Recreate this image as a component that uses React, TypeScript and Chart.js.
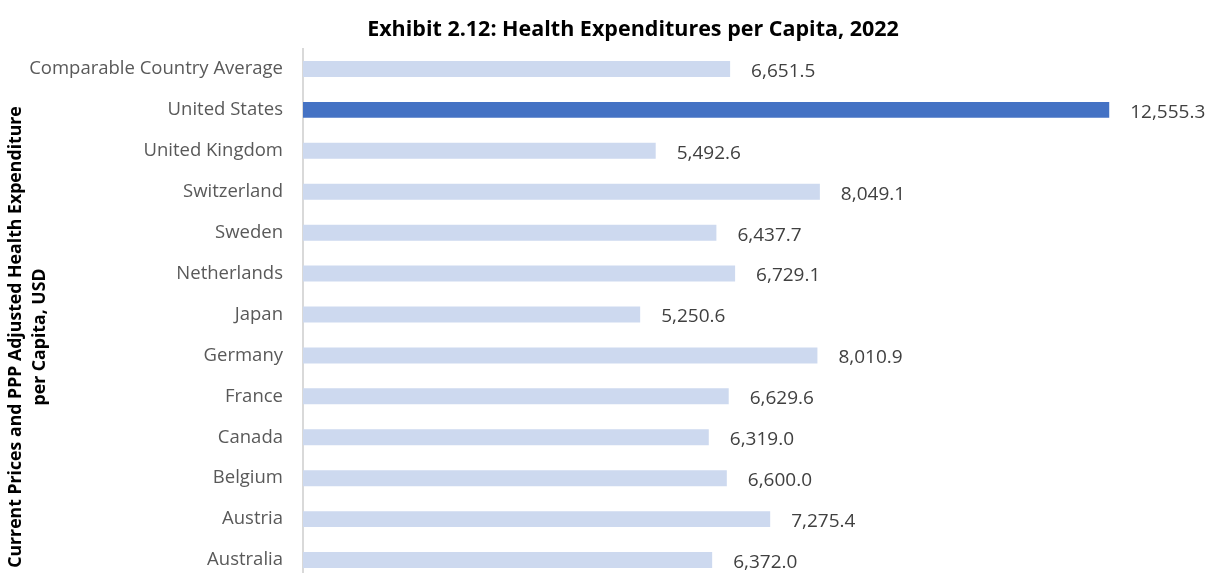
import React, { useEffect, useRef } from "react";
import { Chart, registerables } from "chart.js";

Chart.register(...registerables);

const categories = [
  "Comparable Country Average",
  "United States",
  "United Kingdom",
  "Switzerland",
  "Sweden",
  "Netherlands",
  "Japan",
  "Germany",
  "France",
  "Canada",
  "Belgium",
  "Austria",
  "Australia",
];

const values = [
  6651.5, 12555.3, 5492.6, 8049.1, 6437.7, 6729.1, 5250.6, 8010.9, 6629.6,
  6319.0, 6600.0, 7275.4, 6372.0,
];

const highlight = "United States";
const titleText = "Exhibit 2.12: Health Expenditures per Capita, 2022";
const yTitleLines = [
  "Current Prices and PPP Adjusted Health Expenditure",
  "per Capita, USD",
];

const FONT = "'Open Sans', sans-serif";

export default function App() {
  const ref = useRef<HTMLCanvasElement | null>(null);

  useEffect(() => {
    document.body.style.margin = "0";
    document.body.style.overflow = "hidden";
    const canvas = ref.current;
    if (!canvas) return;

    const labelPlugin = {
      id: "valueLabels",
      afterDatasetsDraw(chart: any) {
        const ctx = chart.ctx;
        const meta = chart.getDatasetMeta(0);
        ctx.save();
        ctx.font = `19px ${FONT}`;
        ctx.fillStyle = "#404040";
        ctx.textAlign = "left";
        ctx.textBaseline = "middle";
        meta.data.forEach((el: any, i: number) => {
          const v = values[i];
          const txt = v.toLocaleString("en-US", {
            minimumFractionDigits: 1,
            maximumFractionDigits: 1,
          });
          ctx.fillText(txt, el.x + 21, el.y + 2.5);
        });
        ctx.restore();
      },
    };

    const textPlugin = {
      id: "texts",
      afterDraw(chart: any) {
        const ctx = chart.ctx;
        ctx.save();
        ctx.fillStyle = "#000000";
        ctx.font = `bold 21.5px ${FONT}`;
        ctx.textAlign = "center";
        ctx.textBaseline = "middle";
        ctx.fillText(titleText, 633, 30);
        ctx.font = `bold 17.7px ${FONT}`;
        ctx.translate(0, 337);
        ctx.rotate(-Math.PI / 2);
        ctx.fillText(yTitleLines[0], 0, 16);
        ctx.fillText(yTitleLines[1], 0, 40);
        ctx.restore();
      },
    };

    const chart = new Chart(canvas, {
      type: "bar",
      data: {
        labels: categories,
        datasets: [
          {
            data: values,
            backgroundColor: categories.map((c) =>
              c === highlight ? "#4472C4" : "#CDD9EF"
            ),
            borderWidth: 0,
            barPercentage: 0.39,
            categoryPercentage: 1,
          },
        ],
      },
      options: {
        indexAxis: "y",
        animation: false,
        responsive: false,
        maintainAspectRatio: false,
        layout: { padding: { top: 48.5, bottom: 19.5, right: 5, left: 0 } },
        plugins: {
          legend: { display: false },
          title: { display: false },
          tooltip: { enabled: false },
        },
        scales: {
          x: { display: false, min: 0, max: 14000 },
          y: {
            afterFit(scale: any) {
              scale.width = 303;
              scale.paddingTop = 0;
              scale.paddingBottom = 0;
            },
            grid: { color: "rgba(0,0,0,0)", drawTicks: false },
            border: { display: true, color: "#D9D9D9", width: 2 },
            ticks: {
              color: "#595959",
              font: { family: FONT, size: 18.5 },
              padding: 20,
            },
          },
        },
      },
      plugins: [labelPlugin, textPlugin],
    } as any);

    return () => chart.destroy();
  }, []);

  return (
    <div style={{ width: 1207, height: 573, overflow: "hidden", background: "#fff" }}>
      <canvas ref={ref} width={1207} height={600} style={{ display: "block" }} />
    </div>
  );
}
